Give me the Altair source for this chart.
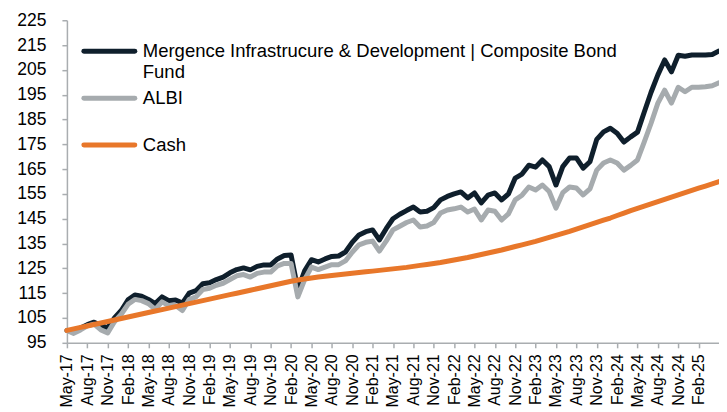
import altair as alt
import pandas as pd

months = pd.date_range("2017-05-01", periods=97, freq="MS").strftime("%b-%y").tolist()

fund = [100.0, 99.5, 101.0, 102.3, 103.3, 102.0, 101.0, 105.0, 108.0, 112.3,
        114.3, 113.8, 112.5, 110.8, 113.5, 112.0, 112.3, 111.0, 115.0, 116.0,
        118.8, 119.2, 120.5, 121.5, 123.2, 124.5, 125.2, 124.4, 125.8, 126.4,
        126.4, 128.8, 130.2, 130.4, 116.5, 124.0, 128.5, 127.6, 128.8, 129.8,
        130.0, 131.6, 135.5, 138.5, 139.8, 140.5, 136.5, 141.0, 145.0, 146.8,
        148.3, 149.7, 147.7, 148.0, 149.5, 152.6, 154.0, 155.0, 155.8, 153.4,
        155.4, 151.4, 154.5, 155.4, 152.6, 155.0, 161.4, 163.0, 166.6, 165.8,
        168.7, 166.0, 158.6, 166.0, 169.5, 169.5, 165.4, 168.0, 177.0, 180.0,
        181.5, 179.5, 175.9, 178.0, 179.9, 188.0, 196.0, 203.0, 209.0, 204.2,
        210.9, 210.5, 211.0, 211.0, 211.0, 211.2, 212.6]

albi = [100.0, 98.8, 100.2, 101.8, 102.5, 100.2, 99.0, 103.5, 106.5, 110.5,
        112.5, 112.0, 110.8, 108.5, 111.5, 110.0, 110.0, 108.0, 112.5, 113.5,
        116.5, 117.0, 118.2, 119.0, 120.5, 122.0, 122.5, 121.5, 123.0, 123.5,
        123.5, 126.0, 127.0, 127.0, 113.5, 120.5, 125.5, 124.5, 125.5, 126.5,
        126.5, 128.0, 131.5, 134.5, 135.5, 136.0, 132.0, 136.0, 140.5, 142.0,
        143.5, 144.5, 141.7, 142.1, 143.5, 147.3, 148.5, 149.0, 149.7, 147.7,
        148.9, 144.5, 148.5, 148.0, 144.5, 147.0, 152.6, 154.5, 157.8, 156.6,
        158.6, 156.0, 149.3, 155.5, 157.8, 157.4, 154.6, 157.0, 164.6, 167.5,
        168.7, 167.5, 164.6, 166.5, 168.7, 176.0, 183.5, 191.6, 196.8, 191.6,
        198.0, 196.2, 198.0, 198.0, 198.2, 198.6, 199.8]

cash = [100.0, 100.6, 101.2, 101.8, 102.4, 103.0, 103.6, 104.2, 104.8, 105.4,
        106.0, 106.6, 107.2, 107.8, 108.4, 109.0, 109.6, 110.2, 110.8, 111.4,
        112.0, 112.6, 113.2, 113.8, 114.4, 115.0, 115.6, 116.2, 116.8, 117.4,
        118.0, 118.6, 119.2, 119.8, 120.3, 120.7, 121.1, 121.5, 121.8, 122.1,
        122.4, 122.7, 123.0, 123.3, 123.6, 123.9, 124.2, 124.5, 124.8, 125.1,
        125.4, 125.8, 126.2, 126.6, 127.0, 127.4, 127.9, 128.4, 128.9, 129.4,
        130.0, 130.6, 131.2, 131.8, 132.4, 133.1, 133.8, 134.5, 135.2, 135.9,
        136.7, 137.5, 138.3, 139.1, 139.9, 140.8, 141.7, 142.6, 143.5, 144.4,
        145.3, 146.3, 147.3, 148.3, 149.2, 150.1, 151.0, 151.9, 152.8, 153.7,
        154.6, 155.5, 156.4, 157.3, 158.2, 159.1, 160.0]

series_colors = ["#0f1f2c", "#a6abae", "#e8772a"]
y_ticks = list(range(95, 226, 10))
x_ticks = months[0:96:3]

FONT = "Liberation Sans"
AXIS_GREY = "#a9adb0"

df = pd.DataFrame({"month": months, "fund": fund, "albi": albi, "cash": cash})

x_enc = alt.X("month:O", sort=None,
              scale=alt.Scale(type="point", padding=0),
              axis=alt.Axis(values=x_ticks, labelAngle=270, labelFontSize=16,
                            labelFont=FONT, labelColor="#000000", title=None,
                            domainColor=AXIS_GREY, domainWidth=1.5,
                            tickColor=AXIS_GREY, tickWidth=1.5, tickSize=5,
                            labelPadding=6, grid=False, labelOverlap=False))
y_scale = alt.Scale(domain=[95, 225], nice=False, zero=False)
y_axis = alt.Axis(values=y_ticks, labelFontSize=17.5, labelFont=FONT,
                  labelColor="#000000", title=None, domainColor=AXIS_GREY,
                  domainWidth=1.5, tickColor=AXIS_GREY, tickWidth=1.5,
                  tickSize=5, labelPadding=16, grid=False, labelOverlap=False)

base = alt.Chart(df)
layers = []
for i, col in enumerate(["fund", "albi", "cash"]):
    layers.append(base.mark_line(color=series_colors[i], strokeWidth=5,
                                 strokeCap="round", strokeJoin="round").encode(
        x=x_enc, y=alt.Y(f"{col}:Q", scale=y_scale, axis=y_axis)))

# manual legend inside the plot area
leg_y = [31, 78, 125]
for i in range(3):
    layers.append(alt.Chart(df.head(1)).mark_rule(
        color=series_colors[i], strokeWidth=5, strokeCap="round").encode(
        x=alt.value(17), x2=alt.value(68), y=alt.value(leg_y[i])))

label_lines = [["Mergence Infrastrucure & Development | Composite Bond", "Fund"], ["ALBI"], ["Cash"]]
for i, lines in enumerate(label_lines):
    for j, line in enumerate(lines):
        layers.append(alt.Chart(df.head(1)).mark_text(
            align="left", baseline="middle", font=FONT, fontSize=18.5,
            color="#000000", text=line).encode(
            x=alt.value(76), y=alt.value(leg_y[i] + j * 21)))

chart = alt.layer(*layers).properties(
    width=653, height=323,
    autosize=alt.AutoSizeParams(type="none"),
    padding={"left": 59, "top": 12, "right": 0, "bottom": 66},
).configure_view(stroke=None)

chart.save("out.html", embed_options={"renderer": "svg", "actions": False})
